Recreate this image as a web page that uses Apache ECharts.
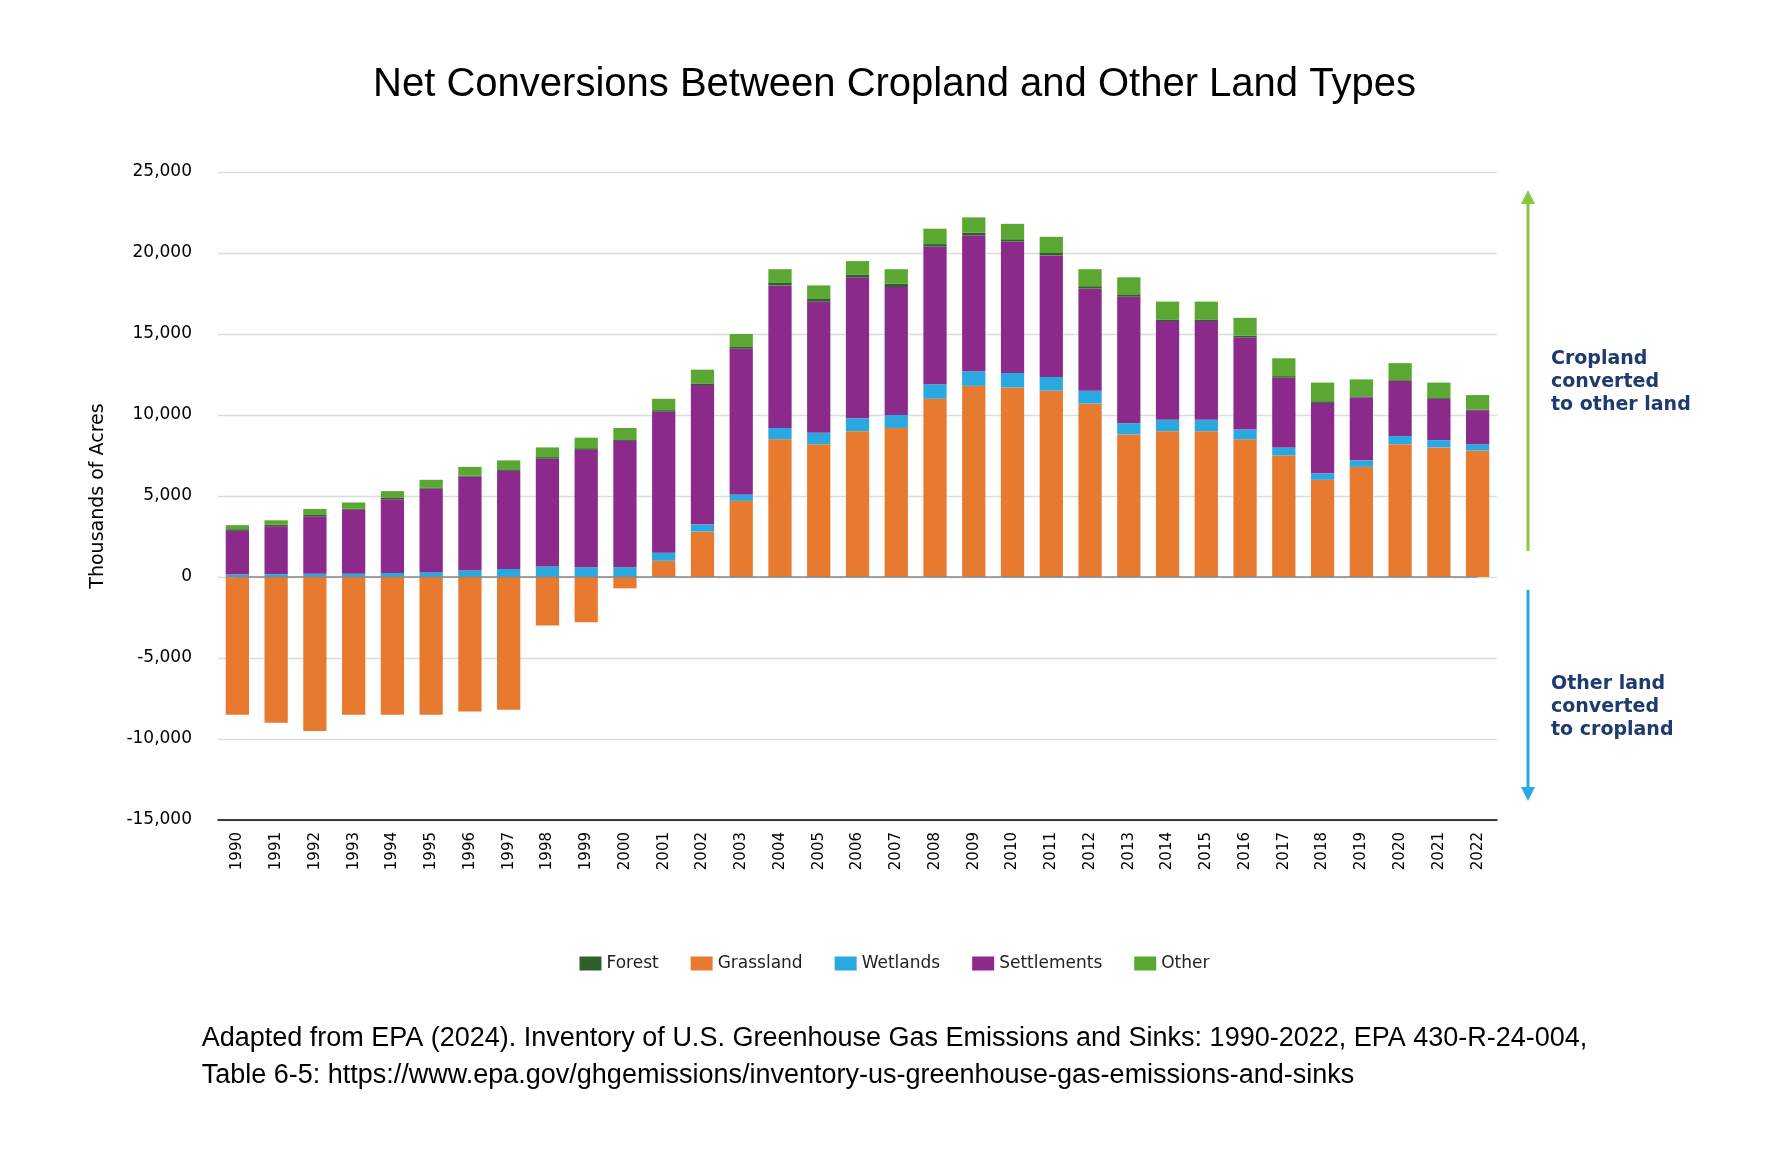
<!DOCTYPE html>
<html><head><meta charset="utf-8">
<script src="https://cdn.jsdelivr.net/npm/echarts@6/dist/echarts.min.js"></script>
<style>html,body{margin:0;padding:0;background:#fff}#c{width:1789px;height:1150px}</style>
</head><body><div id="c"></div>
<script>
const years = ['1990','1991','1992','1993','1994','1995','1996','1997','1998','1999','2000','2001','2002','2003','2004','2005','2006','2007','2008','2009','2010','2011','2012','2013','2014','2015','2016','2017','2018','2019','2020','2021','2022'];
const grassland = [-8500,-9000,-9500,-8500,-8500,-8500,-8300,-8200,-3000,-2800,-700,1000,2800,4700,8500,8200,9000,9200,11000,11800,11700,11500,10700,8800,9000,9000,8500,7500,6000,6800,8200,8000,7800];
const wetlands = [150,180,200,200,250,300,400,500,650,600,600,500,450,400,700,700,800,800,900,900,900,850,800,700,700,700,600,500,400,400,500,450,400];
const settlements = [2700,2950,3550,3950,4550,5150,5800,6050,6650,7250,7800,8700,8600,9000,8800,8100,8700,7900,8500,8400,8100,7500,6300,7800,6100,6100,5700,4300,4350,3900,3400,2550,2100];
const forest = [100,100,80,80,80,80,50,100,100,100,100,100,100,100,150,200,150,200,150,150,150,150,150,150,100,100,100,100,100,50,50,50,30];
const other = [250,270,370,370,420,470,550,550,600,650,700,700,850,800,850,800,850,900,950,950,950,1000,1050,1050,1100,1100,1100,1100,1150,1050,1050,950,900];
const yTicks = [-15000,-10000,-5000,0,5000,10000,15000,20000,25000];

const chart = echarts.init(document.getElementById('c'));
const F = 'DejaVu Sans';
const mk = (name, data, color) => ({name, type:'bar', stack:'a', data, barCategoryGap:'40%', itemStyle:{color}, emphasis:{disabled:true}});
chart.setOption({
  animation:false,
  title:{text:'Net Conversions Between Cropland and Other Land Types', left:'center', top:60,
    textStyle:{fontFamily:'Liberation Sans', fontSize:40, fontWeight:'normal', color:'#000'}},
  legend:{data:['Forest','Grassland','Wetlands','Settlements','Other'], top:950, left:'center', itemWidth:22, itemHeight:14, itemGap:32,
    icon:'rect', textStyle:{fontFamily:F, fontSize:17, color:'#222'}},
  grid:{left:218, right:292, top:172, bottom:330},
  xAxis:{type:'category', data:years, axisTick:{show:false},
    axisLine:{onZero:false, lineStyle:{color:'#000', width:1.5}},
    axisLabel:{rotate:90, fontFamily:F, fontSize:15, color:'#000', margin:12}},
  yAxis:{type:'value', min:yTicks[0], max:yTicks[yTicks.length-1], interval:5000,
    name:'Thousands of Acres', nameLocation:'middle', nameGap:110,
    nameTextStyle:{fontFamily:F, fontSize:19, color:'#000'},
    axisLabel:{fontFamily:F, fontSize:17, color:'#000', margin:26, formatter:v=>v.toLocaleString('en-US')},
    splitLine:{lineStyle:{color:'#dcdcdc', width:1.3}}},
  series:[
    mk('Grassland', grassland, '#e87a2f'),
    mk('Wetlands', wetlands, '#29a9e0'),
    mk('Settlements', settlements, '#8c2a8c'),
    mk('Forest', forest, '#2f5f2a'),
    mk('Other', other, '#5aa832'),
    {type:'line', data:years.map(()=>0), symbol:'none', lineStyle:{color:'#888', width:1.5}, silent:true, z:10, tooltip:{show:false}}
  ],
  graphic:[
    {type:'line', shape:{x1:1528,y1:551,x2:1528,y2:200}, style:{stroke:'#8cc63f', lineWidth:3}},
    {type:'polygon', shape:{points:[[1528,190],[1521,204],[1535,204]]}, style:{fill:'#8cc63f'}},
    {type:'line', shape:{x1:1528,y1:590,x2:1528,y2:790}, style:{stroke:'#29a9e0', lineWidth:3}},
    {type:'polygon', shape:{points:[[1528,801],[1521,787],[1535,787]]}, style:{fill:'#29a9e0'}},
    {type:'text', left:1551, top:348, style:{text:'Cropland\nconverted\nto other land', font:'bold 19px "DejaVu Sans"', fill:'#1f3a6e', lineHeight:23}},
    {type:'text', left:1551, top:673, style:{text:'Other land\nconverted\nto cropland', font:'bold 19px "DejaVu Sans"', fill:'#1f3a6e', lineHeight:23}},
    {type:'text', left:'center', top:1020, style:{text:'Adapted from EPA (2024). Inventory of U.S. Greenhouse Gas Emissions and Sinks: 1990-2022, EPA 430-R-24-004,\nTable 6-5: https://www.epa.gov/ghgemissions/inventory-us-greenhouse-gas-emissions-and-sinks', font:'27px "Liberation Sans"', fill:'#000', align:'center', lineHeight:37}}
  ]
});
</script></body></html>
